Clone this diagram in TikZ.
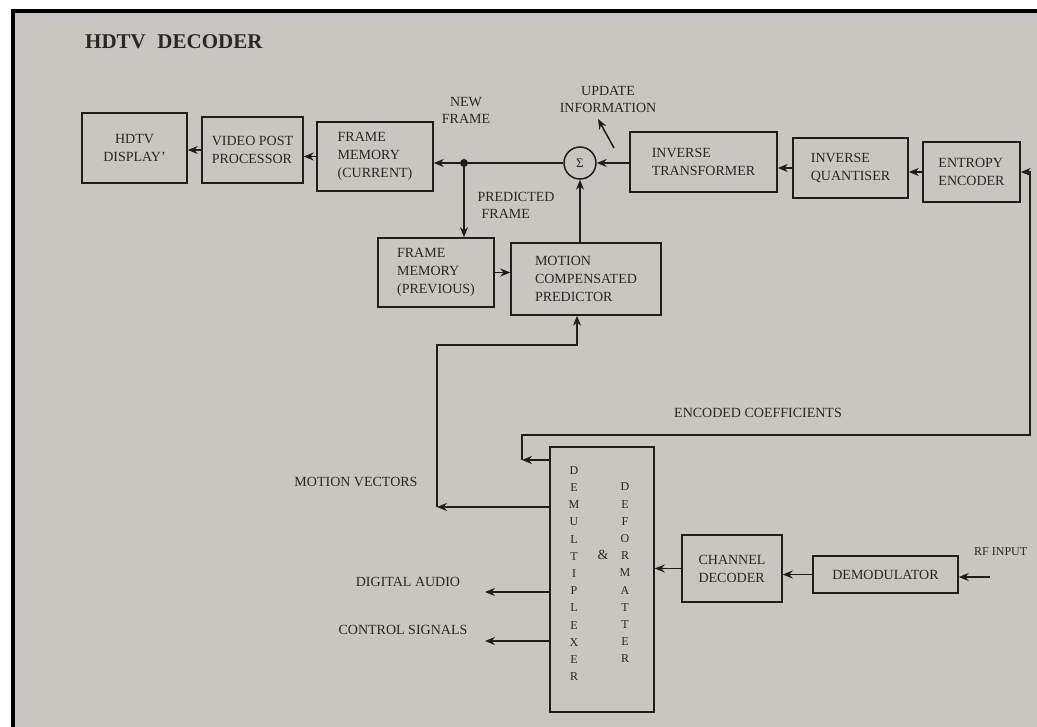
\documentclass[tikz,border=0pt]{standalone}
\usepackage{fontspec}
\setmainfont{Liberation Serif}
\usetikzlibrary{arrows.meta}
\definecolor{paper}{RGB}{201,198,194}
\definecolor{ink}{RGB}{30,30,30}
\definecolor{txt}{RGB}{40,40,40}
\tikzset{
  blk/.style={draw=ink, line width=1.5pt, text=txt, font=\fontsize{14}{18}\selectfont, align=left, inner sep=0pt},
  lbl/.style={text=txt, font=\fontsize{14}{17}\selectfont, align=left, inner sep=0pt},
  arr/.style={draw=ink, line width=1.5pt, -{Stealth[length=10pt,width=8pt]}},
  wire/.style={draw=ink, line width=1.5pt},
  col/.style={text=txt, align=center, inner sep=0pt, font=\fontsize{12}{17.2}\selectfont}
}
\begin{document}
\begin{tikzpicture}[x=1pt,y=-1pt]
% page and frame
\fill[white] (0,0) rectangle (1037,727);
\fill[paper] (15,13) rectangle (1037,727);
\fill[black] (11,9) rectangle (1037,13);
\fill[black] (11,9) rectangle (15,727);
\useasboundingbox (0,0) rectangle (1037,727);

% title
\node[lbl, font=\bfseries\fontsize{21}{24}\selectfont, anchor=west] (title) at (85,42) {HDTV\hspace{0.55em}DECODER};

% top row
\node[blk, align=center, minimum width=105pt, minimum height=70pt] (hd) at (134.5,148) {HDTV\\DISPLAY'};
\node[blk, minimum width=101pt, minimum height=66pt] (vpp) at (252.5,150) {VIDEO POST\\PROCESSOR};
\node[blk, minimum width=116pt, minimum height=69pt] (fmc) at (375,156.5) {FRAME\\MEMORY\\(CURRENT)};
\node[circle, fill=ink, inner sep=0pt, minimum size=8pt] (dot) at (464,163) {};
\node[circle, draw=ink, line width=1.5pt, minimum size=32pt, inner sep=0pt, text=txt, font=\fontsize{13}{15}\selectfont] (sig) at (580,163) {Σ};
\node[blk, minimum width=147pt, minimum height=60pt] (it) at (703.5,162) {INVERSE\\TRANSFORMER};
\node[blk, minimum width=115pt, minimum height=60pt] (iq) at (850.5,168) {INVERSE\\QUANTISER};
\node[blk, minimum width=97pt, minimum height=60pt] (ee) at (971.5,172) {ENTROPY\\ENCODER};

% second row
\node[blk, minimum width=116pt, minimum height=69pt] (fmp) at (436,272.5) {FRAME\\MEMORY\\(PREVIOUS)};
\node[blk, minimum width=150pt, minimum height=72pt] (mcp) at (586,279) {MOTION\\COMPENSATED\\PREDICTOR};

% bottom part
\node[blk, minimum width=104pt, minimum height=265pt] (dmx) at (602,579.5) {};
\node[col] (dm1) at (574,573.5) {D\\E\\M\\U\\L\\T\\I\\P\\L\\E\\X\\E\\R};
\node[col] (dm2) at (625,573) {D\\E\\F\\O\\R\\M\\A\\T\\T\\E\\R};
\node[lbl] (amp) at (603,555) {\&};
\node[blk, minimum width=100pt, minimum height=67pt] (cd) at (732,568.5) {CHANNEL\\DECODER};
\node[blk, minimum width=145pt, minimum height=37pt] (dem) at (885.5,574.5) {DEMODULATOR};

% labels
\node[lbl, align=center] (nf) at (466,110) {NEW\\FRAME};
\node[lbl, align=center] (ui) at (608,99) {UPDATE\\INFORMATION};
\node[lbl] (pf) at (516,205) {PREDICTED\\\hspace{0.3em}FRAME};
\node[lbl] (ecl) at (758,413) {ENCODED COEFFICIENTS};
\node[lbl] (mvl) at (356,482) {MOTION VECTORS};
\node[lbl] (dal) at (408,582) {DIGITAL AUDIO};
\node[lbl] (csl) at (403,630) {CONTROL SIGNALS};
\node[lbl, font=\fontsize{12}{14}\selectfont, anchor=west] (rfl) at (974,552) {RF INPUT};

% free ends and bends
\coordinate (ut) at (614,148);
\coordinate (uh) at (598,119);
\coordinate (mv) at (437,507);
\coordinate (mvc) at (577,345);
\coordinate (ecA) at (522,460);
\coordinate (ecB) at (1030,435);
\coordinate (da) at (485,592);
\coordinate (cs) at (485,641);
\coordinate (rf) at (990,577);

% connectors
\draw[arr] (vpp.west) -- (vpp.west -| hd.east);
\draw[arr] (fmc.west) -- (fmc.west -| vpp.east);
\draw[arr] (dot) -- (dot -| fmc.east);
\draw[wire] (sig.west) -- (dot);
\draw[arr] (it.west |- sig) -- (sig.east);
\draw[arr] (iq.west) -- (iq.west -| it.east);
\draw[arr] (ee.west) -- (ee.west -| iq.east);
\draw[arr] (ut) -- (uh);
\draw[arr] (dot) -- (dot |- fmp.north);
\draw[arr] (fmp.east) -- (fmp.east -| mcp.west);
\draw[arr] (mcp.north -| sig) -- (sig.south);
\draw[arr] (dmx.west |- mv) -- (mv);
\draw[arr] (mv) |- (mvc) -- (mvc |- mcp.south);
\draw[arr] (dmx.west |- ecA) -- (ecA);
\draw[arr] (ecA) |- (ecB) |- (ee.east);
\draw[arr] (dmx.west |- da) -- (da);
\draw[arr] (dmx.west |- cs) -- (cs);
\draw[arr] (cd.west) -- (cd.west -| dmx.east);
\draw[arr] (dem.west) -- (dem.west -| cd.east);
\draw[arr] (rf) -- (rf -| dem.east);
\end{tikzpicture}
\end{document}
